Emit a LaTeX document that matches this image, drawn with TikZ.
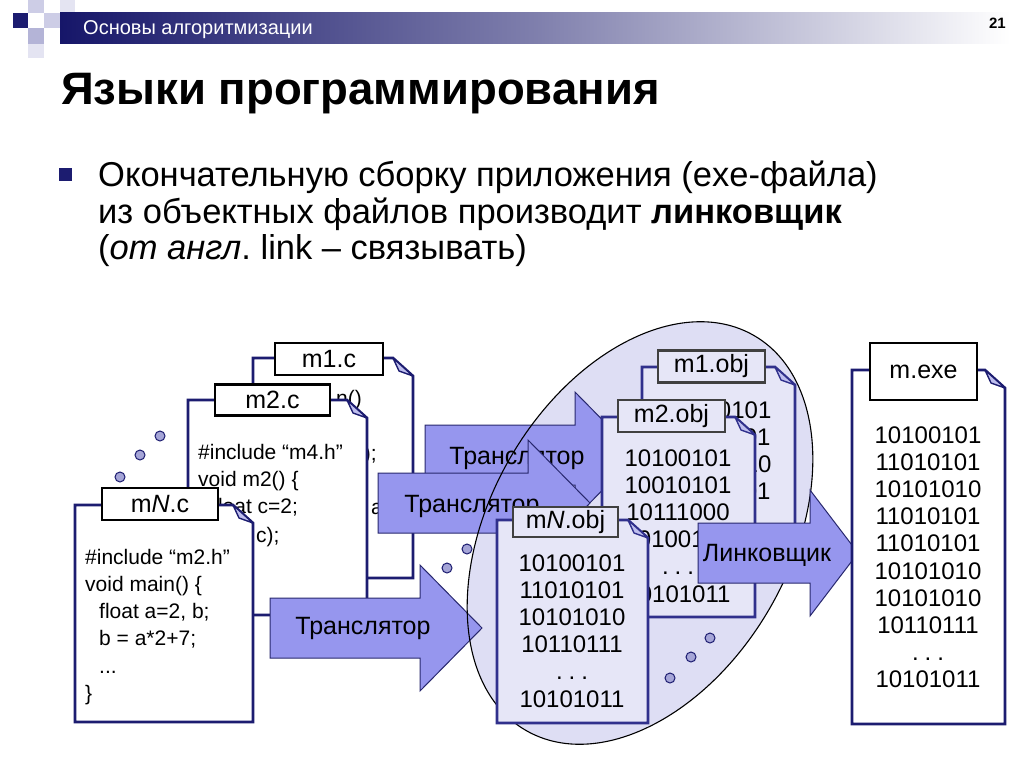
\documentclass[tikz,border=0pt]{standalone}
\usepackage{fontspec}
\setmainfont{Liberation Sans}
\frenchspacing
\definecolor{navy}{RGB}{28,28,112}
\definecolor{hdrnavy}{RGB}{22,22,105}
\definecolor{arrfill}{RGB}{150,150,238}
\definecolor{arrline}{RGB}{40,40,110}
\definecolor{ellfill}{RGB}{222,222,244}
\definecolor{objfill}{RGB}{230,230,247}
\definecolor{objline}{RGB}{48,48,140}
\definecolor{foldc}{RGB}{190,190,238}
\definecolor{dotc}{RGB}{165,165,215}
\definecolor{sqa}{RGB}{205,205,230}
\definecolor{sqb}{RGB}{180,180,215}
\definecolor{sqc}{RGB}{228,228,242}
\tikzset{
 docline/.style={line width=2.6pt, line join=miter},
 foldline/.style={line width=1.4pt, line join=round, fill=foldc},
 lbl/.style={draw=black, line width=2.2pt, fill=white, inner sep=0pt, font=\fontsize{25}{27}\selectfont, minimum width=108pt, minimum height=32pt},
 objlbl/.style={lbl, draw=black!75, fill=objfill},
 arrw/.style={fill=arrfill, draw=arrline, line width=1pt, line join=miter},
 arrtxt/.style={font=\fontsize{25}{27}\selectfont, inner sep=0pt},
 dotn/.style={circle, fill=dotc, draw=navy, line width=1pt, minimum size=10pt, inner sep=0pt},
 code/.style={anchor=base west, inner sep=0pt},
 frag/.style={inner sep=0pt, font=\fontsize{21}{24}\selectfont},
 bin/.style={anchor=base, inner sep=0pt},
 bodyline/.style={anchor=base west, font=\fontsize{34.5}{36}\selectfont, inner sep=0pt},
}
\newcommand\mydoc[6]{%
 \filldraw[docline, draw=#6, fill=#5] (#1,#2) -- ({#3-20},#2) -- (#3,{#2+18}) -- (#3,#4) -- (#1,#4) -- cycle;
 \filldraw[foldline, draw=#6] ({#3-20},#2) -- ({#3-14},{#2+13}) -- (#3,{#2+18}) -- cycle;
}
\newcommand\myarrow[4]{%
 \filldraw[arrw] (#1,{#4-30}) -- (#2,{#4-30}) -- (#2,{#4-63}) -- (#3,#4) -- (#2,{#4+63}) -- (#2,{#4+30}) -- (#1,{#4+30}) -- cycle;
}
\newcommand\bintext[1]{\vtop{\hsize=140pt\parindent=0pt\centering\fontsize{24}{27.2}\selectfont #1\par}}
\newcommand\codetext[1]{\vtop{\hsize=200pt\parindent=0pt\raggedright\fontsize{21}{27.3}\selectfont #1\par}}
\newcommand\ind{\hspace*{14pt}}
\newcommand\bdots{.\hspace{6pt}.\hspace{6pt}.}
\begin{document}
\begin{tikzpicture}[x=1pt,y=-1pt]
\useasboundingbox (0,0) rectangle (1024,767);
\fill[white] (0,0) rectangle (1024,767);
% header decoration
\fill[sqa] (28,0) rectangle (44,13);
\fill[sqc] (60,0) rectangle (75,13);
\fill[sqa] (44,13) rectangle (60,28);
\fill[sqb] (28,28) rectangle (44,44);
\fill[sqc] (28,44) rectangle (44,58);
\shade[left color=hdrnavy, right color=white, middle color=hdrnavy!55!white] (60,13) rectangle (1010,44);
\fill[navy] (13,13) rectangle (28,28);
\node[anchor=west, text=white, font=\fontsize{20}{22}\selectfont, inner sep=0pt] (hdr) at (83,30) {Основы алгоритмизации};
\node[anchor=east, font=\bfseries\fontsize{15}{18}\selectfont, inner sep=0pt] (pg) at (1006,23) {21};
% title
\node[anchor=base west, font=\bfseries\fontsize{45.5}{50}\selectfont, inner sep=0pt] (title) at (61,105) {Языки программирования};
% bullet text
\node[fill=navy, minimum size=13pt, inner sep=0pt] (bul) at (65,175) {};
\node[bodyline] (l1) at (98,187) {Окончательную сборку приложения (exe-файла)};
\node[bodyline] (l2) at (98,223) {из объектных файлов производит \textbf{линковщик}};
\node[bodyline] (l3) at (98,259) {(\textit{от англ}. link – связывать)};
% m1.c
\mydoc{253}{358}{413}{578}{white}{navy}
\node[frag, anchor=base east] (m1a) at (362,405) {n()};
\node[frag, anchor=base east] (m1b) at (377,460) {);};
\node[frag, anchor=base west] (m1c) at (371,514) {a};
\node[lbl] (L1) at (329,359) {m1.c};
% m2.c
\mydoc{188}{400}{367}{615}{white}{navy}
\node[code] (m2code) at (198,459) {\codetext{\#include “m4.h”\\void m2() \{\\\ind float c=2;}};
\node[frag, anchor=base west] (m2d) at (256,542) {c);};
\node[lbl, minimum width=115pt, minimum height=31pt] (L2) at (272.5,400) {m2.c};
% mN.c
\mydoc{75}{505}{253}{722}{white}{navy}
\node[code] (mNcode) at (85,564) {\codetext{\#include “m2.h”\\void main() \{\\\ind float a=2, b;\\\ind b = a*2+7;\\\ind ...\\\}}};
\node[lbl, minimum width=116pt] (LN) at (160,504) {m\textit{N}.c};
% dots left
\node[dotn] (d1) at (120,477) {};
\node[dotn] (d2) at (140,455) {};
\node[dotn] (d3) at (160,436) {};
% ellipse fill
\fill[ellfill, rotate around={60:(640,533)}] (640,533) ellipse [x radius=228, y radius=150];
% translator arrows
\myarrow{425}{575}{637}{455}
\node[arrtxt] (t1) at (517,458) {Транслятор};
\myarrow{378}{528}{590}{503}
\node[arrtxt] (t2) at (472,506) {Транслятор};
\myarrow{270}{420}{482}{628}
\node[arrtxt] (t3) at (363,628) {Транслятор};
% ellipse outline
\draw[black, line width=1.1pt, rotate around={60:(640,533)}] (640,533) ellipse [x radius=228, y radius=150];
% dots middle
\node[dotn] (d4) at (447,568) {};
\node[dotn] (d5) at (467,549) {};
% m1.obj
\mydoc{642}{367}{795}{580}{objfill}{objline}
\node[bin] (b1) at (718,418) {\bintext{10100101\\11010101\\10101010\\11010101\\\bdots\\10101011}};
\node[objlbl, minimum width=107pt] (O1) at (711.5,366.5) {m1.obj};
% m2.obj
\mydoc{602}{417}{755}{617}{objfill}{objline}
\node[bin] (b2) at (678,466) {\bintext{10100101\\10010101\\10111000\\10100101\\\bdots\\10101011}};
\node[objlbl, minimum width=107pt] (O2) at (671.5,416) {m2.obj};
% mN.obj
\mydoc{497}{520}{648}{723}{objfill}{objline}
\node[bin] (bN) at (572,571) {\bintext{10100101\\11010101\\10101010\\10110111\\\bdots\\10101011}};
\node[objlbl, minimum width=105pt, minimum height=30pt] (ON) at (565.5,522) {m\textit{N}.obj};
% dots right
\node[dotn] (d6) at (710,638) {};
\node[dotn] (d7) at (691,657) {};
\node[dotn] (d8) at (670,678) {};
% linker arrow
\myarrow{698}{810}{858}{553}
\node[arrtxt] (t4) at (767,555) {Линковщик};
% m.exe
\mydoc{852}{370}{1005}{724}{white}{navy}
\node[bin] (bE) at (928,443) {\bintext{10100101\\11010101\\10101010\\11010101\\11010101\\10101010\\10101010\\10110111\\\bdots\\10101011}};
\node[lbl, minimum width=107pt, minimum height=57pt] (LE) at (923.5,371.5) {m.exe};
\end{tikzpicture}
\end{document}
